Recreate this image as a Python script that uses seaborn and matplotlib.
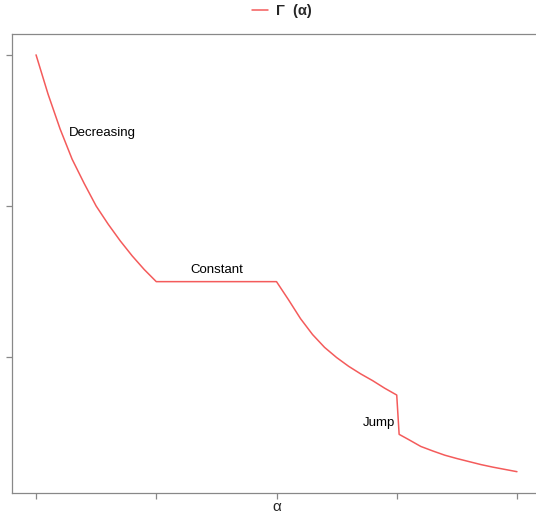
"""Piecewise Gamma(alpha) curve: decreasing, constant, decreasing, jump."""

import matplotlib.pyplot as plt
import numpy as np
import pandas as pd
import seaborn as sns

# values
alpha = [0.0, 0.1, 0.2, 0.3, 0.4, 0.5, 0.6, 0.7, 0.8, 0.9, 1.0,
         2.0, 2.1, 2.2, 2.3, 2.4, 2.5, 2.6, 2.7, 2.8, 2.9, 3.0,
         3.02, 3.1, 3.2, 3.3, 3.4, 3.5, 3.6, 3.7, 3.8, 3.9, 4.0]
gamma = [3.0, 2.74, 2.51, 2.31, 2.15, 2.0, 1.88, 1.77, 1.67, 1.58, 1.5,
         1.5, 1.38, 1.255, 1.15, 1.065, 0.998, 0.94, 0.89, 0.845, 0.795, 0.75,
         0.49, 0.455, 0.41, 0.38, 0.352, 0.33, 0.31, 0.29, 0.273, 0.258, 0.243]
x_ticks = [0, 1, 2, 3, 4]
y_ticks = [1, 2, 3]
notes = ["Decreasing", "Constant", "Jump"]
note_x = [0.555, 1.5, 2.85]
note_y = [2.48, 1.575, 0.565]

line_color = "#F45B5B"
df = pd.DataFrame({"alpha": alpha, "gamma": gamma})

sns.set_theme(style="white")
plt.rcParams["font.family"] = ["Liberation Sans", "DejaVu Sans"]

fig = plt.figure(figsize=(5.36, 5.2), dpi=100)
ax = fig.add_axes([12 / 536, 27 / 520, 529 / 536, 459 / 520])

sns.lineplot(data=df, x="alpha", y="gamma", sort=False, estimator=None,
             color=line_color, linewidth=1.1, ax=ax, label="Γ  (α)", legend=False)

for txt, tx, ty in zip(notes, note_x, note_y):
    ax.text(tx, ty, txt, ha="center", va="center", fontsize=9.5, color="black")

ax.set_xlim(-0.2, 4.2)
ax.set_ylim(0.102, 3.138)
ax.set_xticks(x_ticks)
ax.set_yticks(y_ticks)
ax.set_xticklabels([])
ax.set_yticklabels([])
ax.tick_params(axis="both", direction="out", length=4, width=0.9, color="#888888",
               bottom=True, left=True, pad=0)
for side in ["top", "left", "bottom", "right"]:
    ax.spines[side].set_color("#888888")
    ax.spines[side].set_linewidth(0.9)
ax.spines["right"].set_visible(False)
ax.set_xlabel("α", fontsize=11, labelpad=1)
ax.set_ylabel("")

handles, labels = ax.get_legend_handles_labels()
leg = fig.legend(handles, labels, loc="upper center", bbox_to_anchor=(0.526, 1.018),
                 frameon=False, handlelength=1.1, handletextpad=0.55,
                 prop={"weight": "bold", "size": 10.5})

fig.savefig("out.png", dpi=100)
plt.close()
